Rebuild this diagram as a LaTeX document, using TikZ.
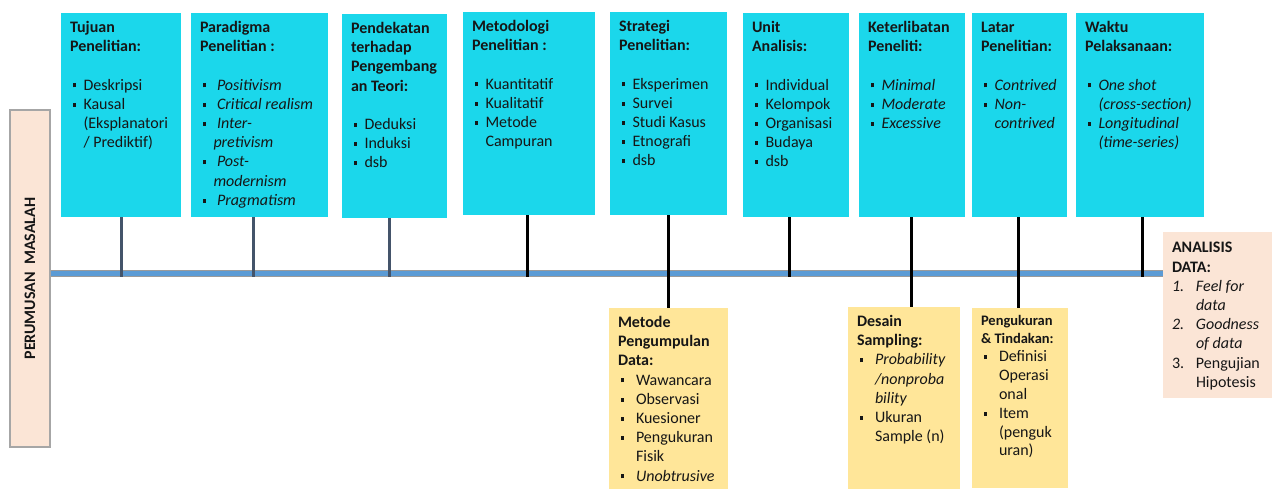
\documentclass[tikz,border=0pt]{standalone}
\usepackage{fontspec}
\setmainfont{Carlito}
\usetikzlibrary{calc}
\definecolor{cyanbox}{HTML}{1BD7EB}
\definecolor{yelbox}{HTML}{FFE699}
\definecolor{peach}{HTML}{FBE5D6}
\definecolor{tlblue}{HTML}{5B9BD5}
\definecolor{tlgray}{HTML}{9A9A9A}
\definecolor{slate}{HTML}{44546A}
\definecolor{txt}{HTML}{161616}
\definecolor{pmborder}{HTML}{A6A6A6}

\newcommand\Sqb{\raisebox{0.17em}{\rule{0.24em}{0.24em}}}
\newcommand\Ttl[1]{\mbox{\strut\bfseries #1}}
\newcommand\Bul[2][13.5pt]{\mbox{\strut\makebox[#1][l]{\hspace{2.5pt}\Sqb}#2}}
\newcommand\Cnt[2][13.5pt]{\mbox{\strut\hspace{#1}#2}}
\newcommand\Eln{\mbox{\strut}}
\newcommand\Num[2]{\mbox{\strut\makebox[24pt][l]{#1}#2}}
\newcommand\Boxtxt[3]{\parbox[t][#2][t]{#1}{\raggedright\fontsize{16}{19.2}\selectfont\color{txt}#3}}

\tikzset{
  topbox/.style={fill=cyanbox, anchor=north west, inner xsep=9pt, inner ysep=6pt, outer sep=0pt},
  botbox/.style={fill=yelbox, anchor=north west, inner xsep=9pt, inner ysep=6pt, outer sep=0pt},
  anbox/.style={fill=peach, anchor=north west, inner xsep=9pt, inner ysep=7.5pt, outer sep=0pt},
  conS/.style={draw=slate, line width=3pt},
  conK/.style={draw=black, line width=3pt},
  tlout/.style={draw=tlgray, line width=7pt},
  tlin/.style={draw=tlblue, line width=4.4pt}
}

\begin{document}
\begin{tikzpicture}[x=1pt,y=-1pt]
\useasboundingbox (0,0) rectangle (1272,490);

% left box
\node[rotate=90, fill=peach, draw=pmborder, line width=1.2pt, minimum width=337pt, minimum height=40pt, inner sep=0pt, text=txt, font=\bfseries\fontsize{16}{19}\selectfont] (pm) at (30,278.5) {PERUMUSAN\ \ MASALAH};

% top boxes
\node[topbox] (b1) at (61,13) {\Boxtxt{102pt}{192pt}{%
\Ttl{Tujuan}\\ \Ttl{Penelitian:}\\ \Eln\\ \Bul{Deskripsi}\\ \Bul{Kausal}\\ \Cnt{(Eksplanatori}\\ \Cnt{/ Prediktif)}}};

\node[topbox] (b2) at (191,13) {\Boxtxt{119pt}{192pt}{%
\Ttl{Paradigma}\\ \Ttl{Penelitian :}\\ \Eln\\ \Bul[17pt]{\itshape Positivism}\\ \Bul[17pt]{\itshape Critical realism}\\ \Bul[17pt]{\itshape Inter-}\\ \Cnt{\itshape pretivism}\\ \Bul[17pt]{\itshape Post-}\\ \Cnt{\itshape modernism}\\ \Bul[17pt]{\itshape Pragmatism}}};

\node[topbox] (b3) at (342,14) {\Boxtxt{87pt}{192pt}{%
\Ttl{Pendekatan}\\ \Ttl{terhadap}\\ \Ttl{Pengembang}\\ \Ttl{an Teori:}\\ \Eln\\ \Bul{Deduksi}\\ \Bul{Induksi}\\ \Bul{dsb}}};

\node[topbox] (b4) at (463,12) {\Boxtxt{114pt}{191pt}{%
\Ttl{Metodologi}\\ \Ttl{Penelitian :}\\ \Eln\\ \Bul{Kuantitatif}\\ \Bul{Kualitatif}\\ \Bul{Metode}\\ \Cnt{Campuran}}};

\node[topbox] (b5) at (610,12) {\Boxtxt{99pt}{191pt}{%
\Ttl{Strategi}\\ \Ttl{Penelitian:}\\ \Eln\\ \Bul{Eksperimen}\\ \Bul{Survei}\\ \Bul{Studi Kasus}\\ \Bul{Etnografi}\\ \Bul{dsb}}};

\node[topbox] (b6) at (743,13) {\Boxtxt{88pt}{192pt}{%
\Ttl{Unit}\\ \Ttl{Analisis:}\\ \Eln\\ \Bul{Individual}\\ \Bul{Kelompok}\\ \Bul{Organisasi}\\ \Bul{Budaya}\\ \Bul{dsb}}};

\node[topbox] (b7) at (859,13) {\Boxtxt{88pt}{192pt}{%
\Ttl{Keterlibatan}\\ \Ttl{Peneliti:}\\ \Eln\\ \Bul{\itshape Minimal}\\ \Bul{\itshape Moderate}\\ \Bul{\itshape Excessive}}};

\node[topbox] (b8) at (972,13) {\Boxtxt{77pt}{192pt}{%
\Ttl{Latar}\\ \Ttl{Penelitian:}\\ \Eln\\ \Bul{\itshape Contrived}\\ \Bul{\itshape Non-}\\ \Cnt{\itshape contrived}}};

\node[topbox] (b9) at (1076,13) {\Boxtxt{110pt}{192pt}{%
\Ttl{Waktu}\\ \Ttl{Pelaksanaan:}\\ \Eln\\ \Bul{\itshape One shot}\\ \Cnt{\itshape (cross-section)}\\ \Bul{\itshape Longitudinal}\\ \Cnt{\itshape (time-series)}}};

% bottom boxes
\node[botbox] (m1) at (609,308) {\Boxtxt{101pt}{169pt}{%
\Ttl{Metode}\\ \Ttl{Pengumpulan}\\ \Ttl{Data:}\\ \Bul[18pt]{Wawancara}\\ \Bul[18pt]{Observasi}\\ \Bul[18pt]{Kuesioner}\\ \Bul[18pt]{Pengukuran}\\ \Cnt[18pt]{Fisik}\\ \Bul[18pt]{\itshape Unobtrusive}}};

\node[botbox] (m2) at (848,307) {\Boxtxt{94pt}{170pt}{%
\Ttl{Desain}\\ \Ttl{Sampling:}\\ \Bul[18pt]{\itshape Probability}\\ \Cnt[18pt]{\itshape /nonproba}\\ \Cnt[18pt]{\itshape bility}\\ \Bul[18pt]{Ukuran}\\ \Cnt[18pt]{Sample (n)}}};

\node[botbox, inner ysep=4.5pt] (m3) at (972,308) {\Boxtxt{78pt}{171pt}{\fontsize{14.5}{18}\selectfont
\Ttl{Pengukuran}\\ \Ttl{\& Tindakan:}\par
\fontsize{16}{18.8}\selectfont
\Bul[18pt]{Definisi}\\ \Cnt[18pt]{Operasi}\\ \Cnt[18pt]{onal}\\ \Bul[18pt]{Item}\\ \Cnt[18pt]{(penguk}\\ \Cnt[18pt]{uran)}}};

\node[anbox] (an) at (1163,232) {\Boxtxt{91pt}{151pt}{%
\Ttl{ANALISIS}\\ \Ttl{DATA:}\\ \Num{\itshape 1.}{\itshape Feel for}\\ \Cnt[24pt]{\itshape data}\\ \Num{\itshape 2.}{\itshape Goodness}\\ \Cnt[24pt]{\itshape of data}\\ \Num{3.}{Pengujian}\\ \Cnt[24pt]{Hipotesis}}};

% timeline
\coordinate (ts) at (pm.south |- 0,273.5);
\coordinate (te) at (an.west |- 0,273.5);
\coordinate (tb) at (0,276.5);
\draw[tlout] (ts) -- (te);
\draw[tlin] (ts) -- (te);

% connectors
\draw[conS] (b1.south) -- (b1.south |- tb);
\draw[conS] ($(b2.south)+(-6.5,0)$) -- ($(b2.south |- tb)+(-6.5,0)$);
\draw[conS] ($(b3.south)+(-5.5,0)$) -- ($(b3.south |- tb)+(-5.5,0)$);
\draw[conK] ($(b4.south)+(-2,0)$) -- ($(b4.south |- tb)+(-2,0)$);
\draw[conK] (b5.south) -- (b5.south |- m1.north);
\draw[conK] ($(b6.south)+(-7,0)$) -- ($(b6.south |- tb)+(-7,0)$);
\draw[conK] ($(b7.south)+(-1,0)$) -- ($(b7.south |- m2.north)+(-1,0)$);
\draw[conK] ($(b8.south)+(-1.5,0)$) -- ($(b8.south |- m3.north)+(-1.5,0)$);
\draw[conK] ($(b9.south)+(2,0)$) -- ($(b9.south |- tb)+(2,0)$);
\end{tikzpicture}
\end{document}
